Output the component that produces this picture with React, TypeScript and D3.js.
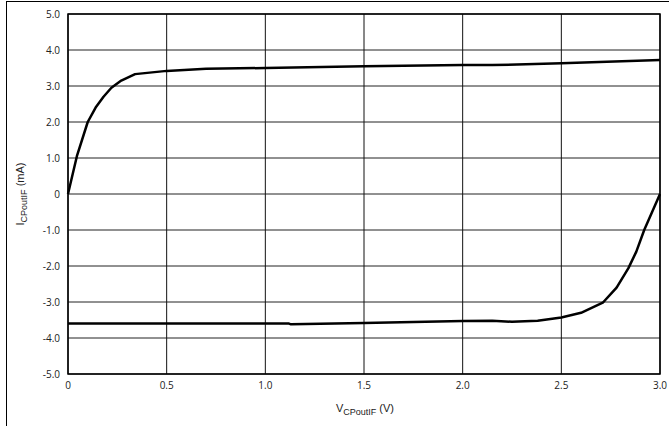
import React from "react";
import * as d3 from "d3";

const xTicks = [0, 0.5, 1.0, 1.5, 2.0, 2.5, 3.0];
const xTickLabels = ["0", "0.5", "1.0", "1.5", "2.0", "2.5", "3.0"];
const yTicks = [5, 4, 3, 2, 1, 0, -1, -2, -3, -4, -5];
const yTickLabels = ["5.0", "4.0", "3.0", "2.0", "1.0", "0", "-1.0", "-2.0", "-3.0", "-4.0", "-5.0"];

const sourceV = [0, 0.045, 0.1, 0.14, 0.18, 0.22, 0.27, 0.34, 0.5, 0.7, 1.0, 1.5, 2.0, 2.15, 2.5, 3.0];
const sourceI = [0, 1.05, 2.0, 2.4, 2.7, 2.95, 3.15, 3.33, 3.42, 3.48, 3.5, 3.55, 3.58, 3.58, 3.63, 3.72];

const sinkV = [0, 1.12, 1.13, 1.5, 2.0, 2.15, 2.25, 2.38, 2.5, 2.6, 2.71, 2.78, 2.84, 2.88, 2.92, 2.96, 3.0];
const sinkI = [-3.6, -3.6, -3.62, -3.58, -3.53, -3.52, -3.55, -3.52, -3.43, -3.3, -3.02, -2.6, -2.06, -1.6, -1.0, -0.5, 0];

export default function App() {
  const W = 669, H = 426;
  const left = 68, right = 660, top = 14, bottom = 374;
  const x = d3.scaleLinear().domain([0, 3]).range([left, right]);
  const y = d3.scaleLinear().domain([-5, 5]).range([bottom, top]);
  const line = d3.line<[number, number]>().x(d => x(d[0])).y(d => y(d[1])).curve(d3.curveLinear);
  const src: [number, number][] = sourceV.map((v, i) => [v, sourceI[i]]);
  const snk: [number, number][] = sinkV.map((v, i) => [v, sinkI[i]]);
  const tickFont = "'Open Sans', 'Liberation Sans', sans-serif";
  const titleFont = "'Liberation Sans', Arial, sans-serif";
  return (
    <svg width={W} height={H} style={{ position: "absolute", left: 0, top: 0, background: "#fff" }}>
      <rect x={0} y={0} width={W} height={H} fill="#fff" />
      <line x1={7} x2={W} y1={1.5} y2={1.5} stroke="#000" strokeWidth={1} />
      <line x1={6.5} x2={6.5} y1={1} y2={H} stroke="#000" strokeWidth={1} />
      {yTicks.map(t => (
        <line key={"gy" + t} x1={left} x2={right} y1={y(t)} y2={y(t)} stroke="#222" strokeWidth={1} />
      ))}
      {xTicks.map(t => (
        <line key={"gx" + t} x1={x(t)} x2={x(t)} y1={top} y2={bottom} stroke="#111" strokeWidth={1} />
      ))}
      <rect x={left} y={top} width={right - left} height={bottom - top} fill="none" stroke="#000" strokeWidth={1.5} />
      {yTicks.map((t, i) => (
        <text key={"ty" + t} x={60} y={y(t) + 3.5} textAnchor="end" fontSize={10} fontFamily={tickFont} fill="#222">
          {yTickLabels[i]}
        </text>
      ))}
      {xTicks.map((t, i) => (
        <text key={"tx" + t} x={x(t)} y={389} textAnchor="middle" fontSize={10} fontFamily={tickFont} fill="#222">
          {xTickLabels[i]}
        </text>
      ))}
      <path d={line(src) || ""} fill="none" stroke="#000" strokeWidth={2.5} strokeLinejoin="round" />
      <path d={line(snk) || ""} fill="none" stroke="#000" strokeWidth={2.5} strokeLinejoin="round" />
      <text transform={`translate(24, 194) rotate(-90)`} textAnchor="middle" fontSize={11} fontFamily={titleFont} fill="#222">
        I<tspan fontSize={9} dy={3}>CPoutIF</tspan><tspan dy={-3}> (mA)</tspan>
      </text>
      <text x={365} y={412} textAnchor="middle" fontSize={11} fontFamily={titleFont} fill="#222">
        V<tspan fontSize={9} dy={3}>CPoutIF</tspan><tspan dy={-3}> (V)</tspan>
      </text>
    </svg>
  );
}
